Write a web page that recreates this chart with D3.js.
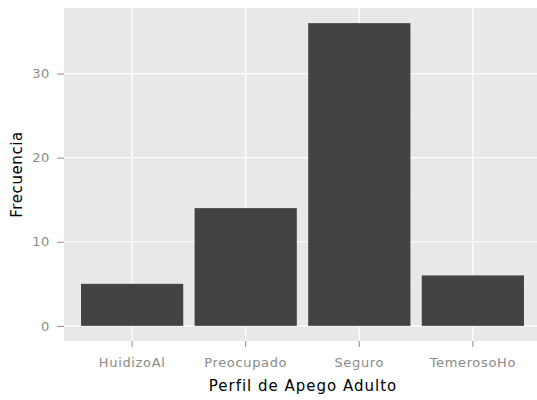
<!DOCTYPE html>
<html>
<head>
<meta charset="utf-8">
<script src="https://cdn.jsdelivr.net/npm/d3@7"></script>
<style>
  body { margin: 0; background: #fff; }
  text { font-family: "DejaVu Sans", sans-serif; }
</style>
</head>
<body>
<div id="chart"></div>
<script>
// frequency of adult attachment profiles
var categories = ["HuidizoAl", "Preocupado", "Seguro", "TemerosoHo"];
var counts = [5, 14, 36, 6];
var yTicks = [0, 10, 20, 30];
var yMinor = [5, 15, 25, 35];

var width = 537, height = 400;
var panel = {left: 64, right: 541, top: 8, bottom: 341};

var svg = d3.select("#chart").append("svg")
    .attr("width", width)
    .attr("height", height);

// scales
var x = d3.scaleBand()
    .domain(categories)
    .range([panel.left, panel.right])
    .paddingInner(0.1)
    .paddingOuter(0.15);

var yMax = d3.max(counts);
var pad = yMax * 0.05;
var y = d3.scaleLinear()
    .domain([-pad, yMax + pad])
    .range([panel.bottom, panel.top]);

// panel background
svg.append("rect")
    .attr("x", panel.left)
    .attr("y", panel.top)
    .attr("width", panel.right - panel.left)
    .attr("height", panel.bottom - panel.top)
    .attr("fill", "#e8e8e8");

// minor grid
svg.selectAll(".minor")
    .data(yMinor)
    .enter().append("line")
    .attr("class", "minor")
    .attr("x1", panel.left).attr("x2", panel.right)
    .attr("y1", function(d){ return y(d); })
    .attr("y2", function(d){ return y(d); })
    .attr("stroke", "#f2f2f2")
    .attr("stroke-width", 0.6);

// major grid
svg.selectAll(".hmajor")
    .data(yTicks)
    .enter().append("line")
    .attr("class", "hmajor")
    .attr("x1", panel.left).attr("x2", panel.right)
    .attr("y1", function(d){ return y(d); })
    .attr("y2", function(d){ return y(d); })
    .attr("stroke", "#fff")
    .attr("stroke-width", 1.2);

svg.selectAll(".vmajor")
    .data(categories)
    .enter().append("line")
    .attr("class", "vmajor")
    .attr("y1", panel.top).attr("y2", panel.bottom)
    .attr("x1", function(d){ return x(d) + x.bandwidth() / 2; })
    .attr("x2", function(d){ return x(d) + x.bandwidth() / 2; })
    .attr("stroke", "#fff")
    .attr("stroke-width", 1.2);

// bars
svg.selectAll(".bar")
    .data(counts)
    .enter().append("rect")
    .attr("class", "bar")
    .attr("x", function(d, i){ return x(categories[i]); })
    .attr("width", x.bandwidth())
    .attr("y", function(d){ return y(d); })
    .attr("height", function(d){ return y(0) - y(d); })
    .attr("fill", "#434343");

// axes
var xAxis = svg.append("g")
    .attr("transform", "translate(0," + panel.bottom + ")")
    .call(d3.axisBottom(x).tickSize(6).tickPadding(11));

var yAxis = svg.append("g")
    .attr("transform", "translate(" + panel.left + ",0)")
    .call(d3.axisLeft(y).tickValues(yTicks).tickSize(7).tickPadding(7));

[xAxis, yAxis].forEach(function(ax){
    ax.select(".domain").remove();
    ax.selectAll(".tick line").attr("stroke", "#8a8a8a");
    ax.selectAll(".tick text")
        .attr("fill", "#8a8a8a")
        .style("font-size", "13px")
        .style("letter-spacing", "0.65px")
        .style("font-family", "'DejaVu Sans', sans-serif");
});

// axis titles
svg.append("text")
    .attr("x", 303)
    .attr("y", 391)
    .attr("text-anchor", "middle")
    .style("font-size", "15px")
    .style("letter-spacing", "1px")
    .attr("fill", "#000")
    .text("Perfil de Apego Adulto");

svg.append("text")
    .attr("transform", "translate(22," + ((panel.top + panel.bottom) / 2) + ") rotate(-90)")
    .attr("text-anchor", "middle")
    .style("font-size", "15px")
    .style("letter-spacing", "0.6px")
    .attr("fill", "#000")
    .text("Frecuencia");
</script>
</body>
</html>
